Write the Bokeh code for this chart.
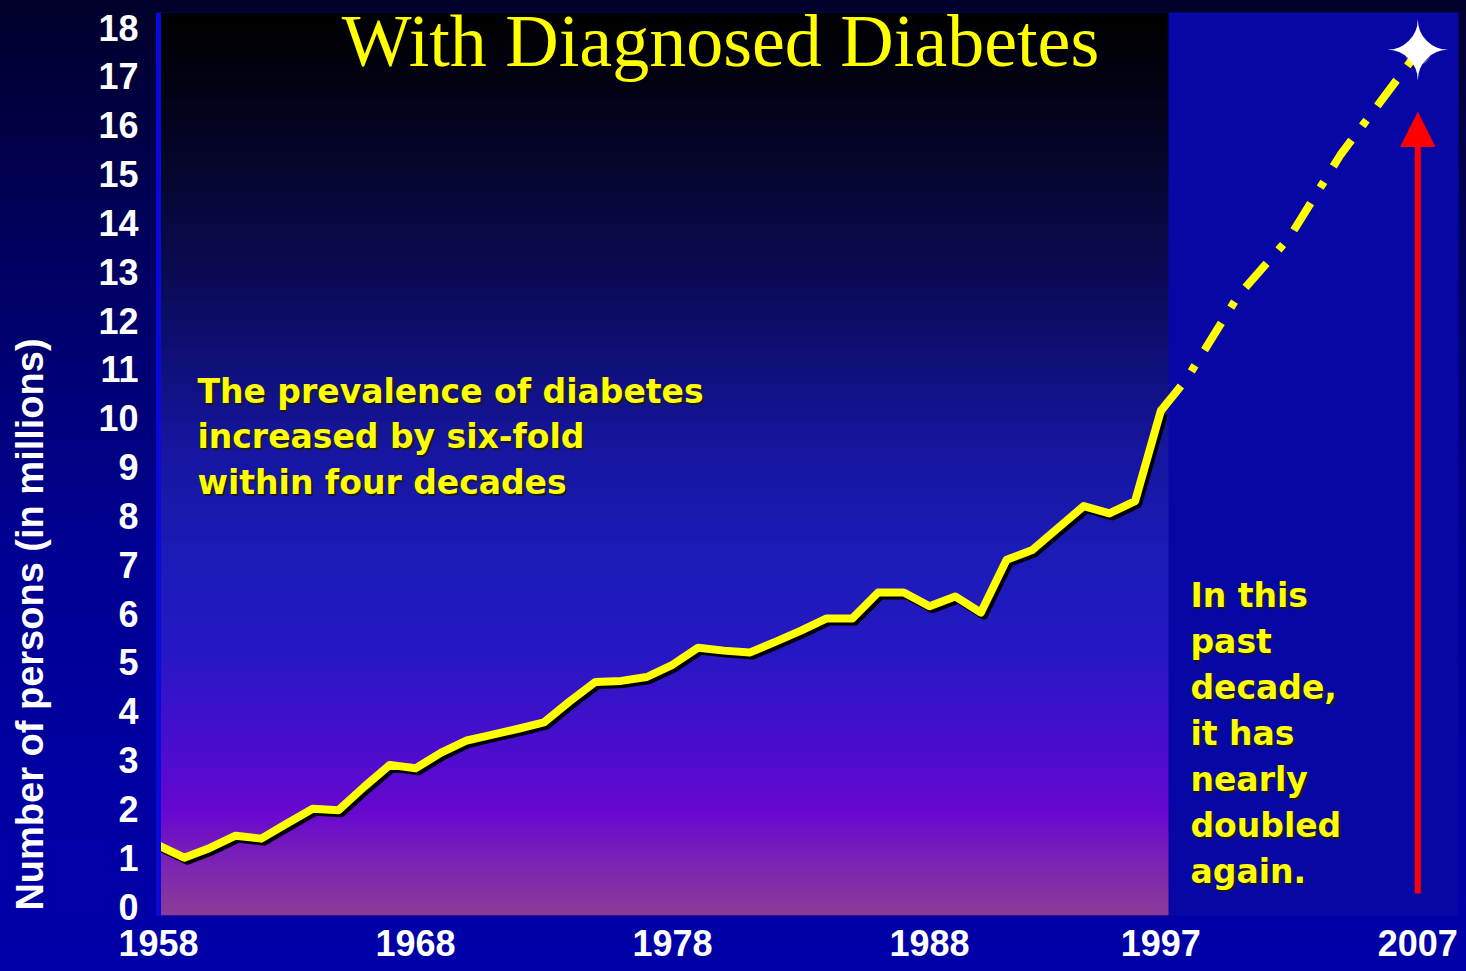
import numpy as np
from bokeh.plotting import figure
from bokeh.layouts import row
from bokeh.models import Range1d, FixedTicker, Label, Arrow, NormalHead
from bokeh.core.properties import value
from bokeh.embed import file_html
from bokeh.resources import INLINE

# ---------------- data ----------------
years = list(range(1958, 1998))
persons = [1.25, 1.0, 1.2, 1.45, 1.39, 1.7, 2.0, 1.97, 2.45, 2.9,
           2.83, 3.15, 3.4, 3.52, 3.64, 3.77, 4.2, 4.6, 4.62, 4.7,
           4.95, 5.3, 5.24, 5.2, 5.42, 5.65, 5.9, 5.9, 6.43, 6.43,
           6.15, 6.35, 6.02, 7.1, 7.3, 7.75, 8.2, 8.05, 8.3, 10.15]
proj_years = [1997, 1998, 2000, 2002, 2004, 2007]
proj_persons = [10.15, 10.8, 12.5, 13.7, 15.4, 17.5]
star_year = [2007]
star_value = [17.5]
x_ticks = [1958, 1968, 1978, 1988, 1997, 2007]
y_ticks = list(range(0, 19))
title_text = "With Diagnosed Diabetes"
ylabel_text = "Number of persons (in millions)"
note_left = ["The prevalence of diabetes", "increased by six-fold", "within four decades"]
note_right = ["In this", "past", "decade,", "it has", "nearly", "doubled", "again."]

# ---------------- layout (page pixels) ----------------
W, H = 1466, 971
LW = 60                 # width of the narrow strip holding the y label
L, R, T, B = 158, 8, 12, 56
FW, FH = W - L - R, H - T - B
PPX = 25.7          # px per year
PPY = 48.83         # px per million
ZERO_PX = 906       # page y of value 0
x0 = 1958.0
x1 = x0 + FW / PPX
y0 = -(T + FH - ZERO_PX) / PPY
y1 = (ZERO_PX - T) / PPY
BASE_FIX = 0.365    # svg baseline correction (fraction of font size)
BG = "linear-gradient(to bottom, #00002a 0%, #00005e 25%, #000090 55%, #0000a2 80%, #0000a8 100%)"

def dx(px):  # page x px -> data x
    return x0 + (px - L) / PPX

def dy(py):  # page y px -> data y
    return (ZERO_PX - py) / PPY

# ---- narrow left strip with the rotated axis title (frame aligned with main frame) ----
s = figure(width=LW, height=H, x_range=Range1d(0, LW), y_range=Range1d(H - (T + FH), H - T),
           output_backend="svg", toolbar_location=None, min_border=0,
           min_border_top=T, min_border_bottom=B,
           x_axis_location=None, y_axis_location=None)
s.styles = {"background": BG}
s.border_fill_alpha = 0
s.background_fill_alpha = 0
s.outline_line_color = None
s.grid.visible = False
s.add_layout(Label(x=29, y=H - 624, text=ylabel_text, angle=np.pi / 2,
                   text_font="Liberation Sans", text_font_style="bold", text_font_size="38px",
                   text_color="white", text_align="center", text_baseline="middle"))

# ---- main chart ----
p = figure(width=W - LW, height=H, x_range=Range1d(x0, x1), y_range=Range1d(y0, y1),
           output_backend="svg", toolbar_location=None,
           min_border_left=L - LW, min_border_right=R, min_border_top=T, min_border_bottom=B)
p.styles = {"background": BG}
p.border_fill_alpha = 0
p.background_fill_color = "#0707a6"
p.outline_line_color = None
p.grid.visible = False

# gradient panel behind the 1958-1997 history
stops_px = [12, 150, 300, 450, 560, 650, 740, 810, 870, 915]
stops_rgb = [(0, 0, 0), (5, 5, 40), (12, 12, 95), (22, 22, 160), (28, 28, 185),
             (38, 24, 196), (72, 14, 205), (104, 8, 208), (126, 40, 176), (140, 60, 150)]
n = 300
img = np.zeros((n, 1), dtype=np.uint32)
view = img.view(dtype=np.uint8).reshape((n, 1, 4))
sp = np.array(stops_px, dtype=float)
for i in range(n):
    py = (T + FH) - (i + 0.5) / n * FH  # row 0 at bottom
    for c in range(3):
        view[i, 0, c] = int(np.interp(py, sp, [st[c] for st in stops_rgb]))
    view[i, 0, 3] = 255
p.image_rgba(image=[img], x=x0, y=y0, dw=dx(1168) - x0, dh=y1 - y0)

# axes
for ax in (p.xaxis[0], p.yaxis[0]):
    ax.major_tick_out = 0
    ax.major_tick_in = 0
    ax.minor_tick_out = 0
    ax.minor_tick_in = 0
    ax.major_label_text_color = "white"
    ax.major_label_text_font = "Liberation Sans"
    ax.major_label_text_font_style = "bold"
    ax.major_label_text_font_size = "36px"
p.xaxis.ticker = FixedTicker(ticks=x_ticks)
p.yaxis.ticker = FixedTicker(ticks=y_ticks)
p.xaxis.axis_line_color = None
p.xaxis.major_label_standoff = 14
p.yaxis.axis_line_color = "#0a0ad8"
p.yaxis.axis_line_width = 5
p.yaxis.major_label_standoff = 20

# line with shadow
sh_x = np.array(years, dtype=float) + 3 / PPX
sh_y = np.array(persons) - 3 / PPY
p.line(sh_x, sh_y, line_color="black", line_width=8, line_join="round")
p.line(years, persons, line_color="#ffff00", line_width=8, line_join="round", line_cap="round")
p.line(proj_years, proj_persons, line_color="#ffff00", line_width=8, line_dash="32 18 7 18")

# red arrow
p.add_layout(Arrow(end=NormalHead(size=34, fill_color="#ff0000", line_color="#ff0000"),
                   x_start=star_year[0], y_start=dy(893), x_end=star_year[0], y_end=dy(112),
                   line_color="#ff0000", line_width=6))

# star
p.scatter(star_year, star_value, size=26, marker="circle", fill_color="#fffbd0",
          fill_alpha=0.35, line_color=None)
p.text(star_year, star_value, text=["\u2726"], text_color="white", text_font_size="80px",
       text_font=value("DejaVu Sans"), text_align="center", text_baseline="middle")

# title
TS = 74
p.add_layout(Label(x=dx(720), y=dy(68 - BASE_FIX * TS), text=title_text, text_font="Liberation Serif",
                   text_font_size=f"{TS}px", text_color="#ffff00", text_align="center",
                   text_baseline="alphabetic"))

def note(lines, left_px, base_px, step, size=33):
    for k, t in enumerate(lines):
        yy = dy(base_px + k * step - BASE_FIX * size)
        p.add_layout(Label(x=dx(left_px), y=yy, text=t, x_offset=2, y_offset=-2,
                           text_font="DejaVu Sans", text_font_style="bold", text_font_size=f"{size}px",
                           text_color="#1a1a1a", text_baseline="alphabetic"))
        p.add_layout(Label(x=dx(left_px), y=yy, text=t,
                           text_font="DejaVu Sans", text_font_style="bold", text_font_size=f"{size}px",
                           text_color="#ffff00", text_baseline="alphabetic"))

note(note_left, 197, 403, 45.5)
note(note_right, 1190, 607, 46)

layout = row(s, p, spacing=0)
open("out.html", "w").write(file_html(layout, INLINE))
